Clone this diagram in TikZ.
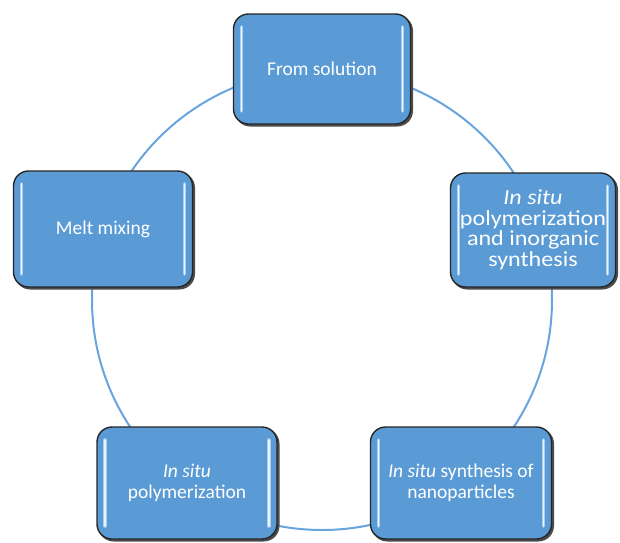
\documentclass[tikz,border=0pt]{standalone}
\usepackage{fontspec}
\setmainfont{Carlito}
\newfontfamily\widefont[FakeStretch=1.12]{Carlito}
\definecolor{boxblue}{RGB}{91,155,213}
\definecolor{ringblue}{RGB}{104,164,222}
\definecolor{hlwhite}{RGB}{235,244,252}
\definecolor{hlglow}{RGB}{170,206,238}
\tikzset{
  cyclebox/.style={
    draw=black!85, line width=1.4pt, fill=boxblue, rounded corners=15pt,
    text=white, align=center, inner sep=4pt,
    font=\fontsize{19.5}{21}\selectfont,
    path picture={
      \foreach \c/\w in {hlglow/3.6pt, hlwhite/1.6pt}{
        \draw[\c, line width=\w, line cap=round]
          ([xshift=8pt,yshift=-13pt]path picture bounding box.north west) --
          ([xshift=8pt,yshift=13pt]path picture bounding box.south west);
        \draw[\c, line width=\w, line cap=round]
          ([xshift=-8pt,yshift=-13pt]path picture bounding box.north east) --
          ([xshift=-8pt,yshift=13pt]path picture bounding box.south east);
      }
    },
    preaction={draw=black!70, line width=1.4pt, fill=black!70, transform canvas={xshift=1.8pt,yshift=-1.8pt}}
  },
  ringline/.style={draw=ringblue, line width=2pt}
}
\begin{document}
\begin{tikzpicture}[x=1pt,y=-1pt]
\useasboundingbox (0,0) rectangle (620,542);
\draw[ringline] (322,300) circle[radius=230];
\node[cyclebox, minimum width=177pt, minimum height=110pt] (fs) at (322,69) {From solution};
\node[cyclebox, minimum width=165pt, minimum height=114pt, font=\widefont\fontsize{21.5}{20.5}\selectfont] (ip) at (533,230) {\textit{In situ}\\polymerization\\and inorganic\\synthesis};
\node[cyclebox, minimum width=181pt, minimum height=112pt] (sn) at (461,483) {\textit{In situ} synthesis of\\nanoparticles};
\node[cyclebox, minimum width=180pt, minimum height=112pt] (po) at (187,483) {\textit{In situ}\\polymerization};
\node[cyclebox, minimum width=179pt, minimum height=116pt] (mm) at (103,229) {Melt mixing};
\end{tikzpicture}
\end{document}
